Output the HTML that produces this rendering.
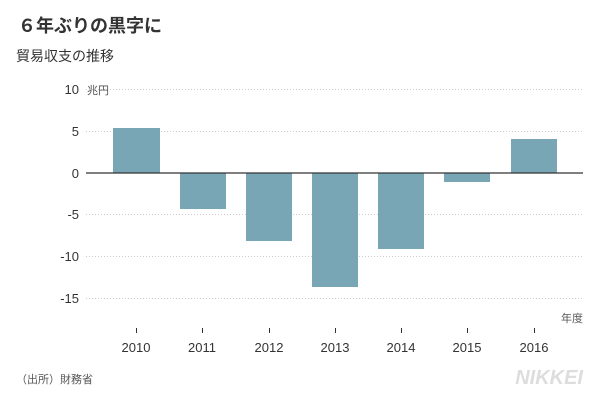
<!DOCTYPE html>
<html><head><meta charset="utf-8"><style>
body{margin:0;width:600px;height:400px;background:#fff;overflow:hidden}
svg text{font-family:"Liberation Sans","Noto Sans CJK JP",sans-serif}
</style></head><body>
<svg width="600" height="400" xmlns="http://www.w3.org/2000/svg">
<text x="18" y="32" font-size="18" font-weight="bold" fill="#333">６年ぶりの黒字に</text>
<text x="16" y="61" font-size="14" fill="#333">貿易収支の推移</text>
<g stroke="#ccc" stroke-dasharray="1,2" stroke-width="1">
<line x1="86" y1="89.5" x2="583" y2="89.5"/>
<line x1="86" y1="131.5" x2="583" y2="131.5"/>
<line x1="86" y1="214.5" x2="583" y2="214.5"/>
<line x1="86" y1="256.5" x2="583" y2="256.5"/>
<line x1="86" y1="298.5" x2="583" y2="298.5"/>
</g>
<g font-size="13" fill="#333" text-anchor="end">
<text x="79" y="94">10</text><text x="79" y="136">5</text><text x="79" y="178">0</text>
<text x="79" y="219">-5</text><text x="79" y="261">-10</text><text x="79" y="303">-15</text>
</g>
<text x="87" y="94" font-size="11" fill="#555">兆円</text>
<g fill="#78a6b5">
<rect x="113" y="128" width="47" height="45"/>
<rect x="180" y="173" width="46" height="36"/>
<rect x="246" y="173" width="46" height="68"/>
<rect x="312" y="173" width="46" height="114"/>
<rect x="378" y="173" width="46" height="76"/>
<rect x="444" y="173" width="46" height="9"/>
<rect x="511" y="139" width="46" height="34"/>
</g>
<line x1="86" y1="173" x2="583" y2="173" stroke="#333" stroke-width="1.2"/>
<g stroke="#333" stroke-width="1">
<line x1="136.5" y1="328" x2="136.5" y2="333"/><line x1="202.5" y1="328" x2="202.5" y2="333"/>
<line x1="269.5" y1="328" x2="269.5" y2="333"/><line x1="335.5" y1="328" x2="335.5" y2="333"/>
<line x1="401.5" y1="328" x2="401.5" y2="333"/><line x1="467.5" y1="328" x2="467.5" y2="333"/>
<line x1="534.5" y1="328" x2="534.5" y2="333"/>
</g>
<g font-size="13" fill="#333" text-anchor="middle">
<text x="136" y="352">2010</text><text x="202" y="352">2011</text><text x="269" y="352">2012</text>
<text x="335" y="352">2013</text><text x="401" y="352">2014</text><text x="467" y="352">2015</text>
<text x="534" y="352">2016</text>
</g>
<text x="583" y="322" font-size="11" fill="#555" text-anchor="end">年度</text>
<text x="16" y="383" font-size="11" fill="#555">（出所）財務省</text>
<text x="583" y="384" font-size="20" font-weight="bold" font-style="italic" fill="#ddd" text-anchor="end">NIKKEI</text>
</svg>
</body></html>
